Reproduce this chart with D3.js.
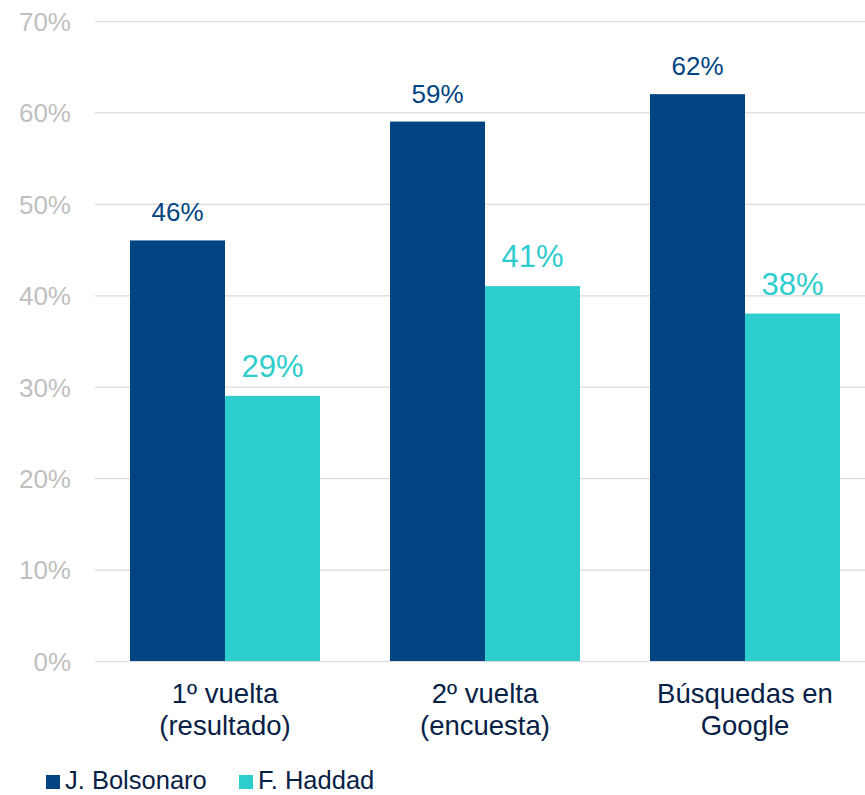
<!DOCTYPE html>
<html>
<head>
<meta charset="utf-8">
<script src="https://cdn.jsdelivr.net/npm/d3@7"></script>
<style>
  html, body { margin: 0; padding: 0; background: #fff; }
  svg { display: block; font-family: "Liberation Sans", Arial, sans-serif; }
</style>
</head>
<body>
<svg id="chart" width="865" height="795"></svg>
<script>
// Vote share: first-round result, second-round poll, Google search share
const categories = [["1º vuelta", "(resultado)"], ["2º vuelta", "(encuesta)"], ["Búsquedas en", "Google"]];
const seriesNames = ["J. Bolsonaro", "F. Haddad"];
const bolsonaro = [46, 59, 62];
const haddad = [29, 41, 38];
const yTicks = [0, 10, 20, 30, 40, 50, 60, 70];

const colors = ["#004481", "#2DCCCD"];
const labelSizes = [26, 31];
const seriesValues = [bolsonaro, haddad];

const svg = d3.select("#chart");

const x0 = d3.scaleBand()
  .domain(d3.range(categories.length))
  .range([95, 875])
  .paddingInner(70 / 260)
  .paddingOuter(35 / 260);

const x1 = d3.scaleBand()
  .domain(d3.range(seriesNames.length))
  .range([0, x0.bandwidth()]);

const y = d3.scaleLinear().domain([0, 70]).range([661, 21]);

// Gridlines and y tick labels
const yAxis = d3.axisLeft(y)
  .tickValues(yTicks)
  .tickFormat(d => d + "%")
  .tickSize(-(865 - 95))
  .tickPadding(24);

const gy = svg.append("g").attr("transform", "translate(95,0)").call(yAxis);
gy.select(".domain").remove();
gy.selectAll(".tick line").attr("stroke", "#d9d9d9").attr("stroke-width", 1.2);
gy.selectAll(".tick text")
  .attr("fill", "#bfbfbf")
  .attr("font-size", 26)
  .attr("font-family", "Liberation Sans, Arial, sans-serif")
  .attr("dy", "0.36em");

// Bars
const groups = svg.append("g").selectAll("g")
  .data(categories)
  .join("g")
  .attr("transform", (d, i) => `translate(${x0(i)},0)`);

groups.selectAll("rect")
  .data((d, i) => seriesValues.map((s, j) => ({ s: j, v: s[i] })))
  .join("rect")
  .attr("x", d => x1(d.s))
  .attr("y", d => y(d.v))
  .attr("width", x1.bandwidth())
  .attr("height", d => y(0) - y(d.v))
  .attr("fill", d => colors[d.s]);

// Value labels
groups.selectAll("text.val")
  .data((d, i) => seriesValues.map((s, j) => ({ s: j, v: s[i] })))
  .join("text")
  .attr("class", "val")
  .attr("x", d => x1(d.s) + x1.bandwidth() / 2)
  .attr("y", d => y(d.v) - 19)
  .attr("text-anchor", "middle")
  .attr("font-size", d => labelSizes[d.s])
  .attr("fill", d => colors[d.s])
  .text(d => d.v + "%");

// Category labels
const cat = svg.append("g").selectAll("text")
  .data(categories)
  .join("text")
  .attr("x", (d, i) => x0(i) + x0.bandwidth() / 2)
  .attr("y", 703)
  .attr("text-anchor", "middle")
  .attr("font-size", 27.5)
  .attr("fill", "#072146");

cat.selectAll("tspan")
  .data(d => d)
  .join("tspan")
  .attr("x", function () { return d3.select(this.parentNode).attr("x"); })
  .attr("dy", (d, i) => i === 0 ? 0 : 32)
  .text(d => d);

// Legend
const legendX = [46, 239];
const legend = svg.append("g").selectAll("g")
  .data(seriesNames)
  .join("g")
  .attr("transform", (d, i) => `translate(${legendX[i]},775)`);

legend.append("rect")
  .attr("width", 14)
  .attr("height", 14)
  .attr("fill", (d, i) => colors[i]);

legend.append("text")
  .attr("x", 19)
  .attr("y", 14)
  .attr("font-size", 25.5)
  .attr("fill", "#072146")
  .text(d => d);
</script>
</body>
</html>
